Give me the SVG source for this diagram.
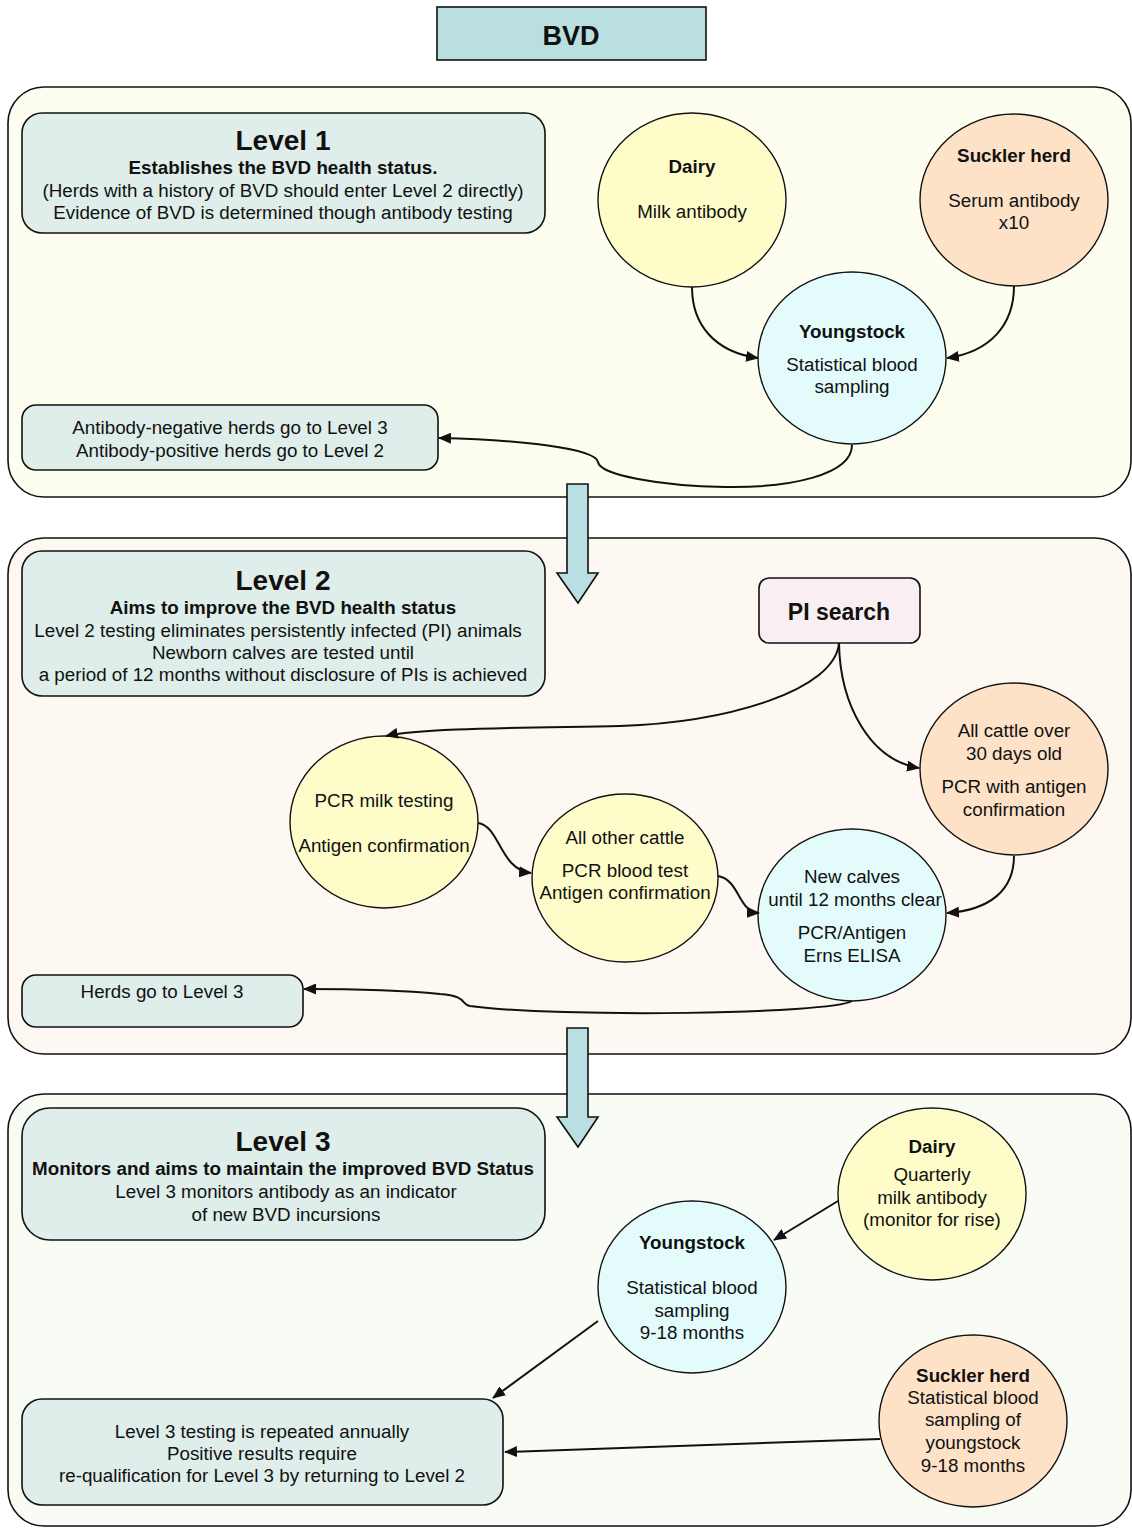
<svg xmlns="http://www.w3.org/2000/svg" width="1132" height="1528" viewBox="0 0 1132 1528">
<style>
text{font-family:"Liberation Sans",Arial,sans-serif;font-size:18.8px;fill:#111;text-anchor:middle}
.b{font-weight:bold}
.t{font-weight:bold;font-size:28px}
.cont{stroke:#111;stroke-width:1.6}
.box{fill:#dfeeea;stroke:#111;stroke-width:1.6}
.yel{fill:#fefdc9;stroke:#111;stroke-width:1.4}
.pch{fill:#fde2c7;stroke:#111;stroke-width:1.4}
.cyn{fill:#e3fcfb;stroke:#111;stroke-width:1.4}
.blk{fill:#b9dfe2;stroke:#111;stroke-width:1.6}
.c{fill:none;stroke:#111;stroke-width:2}
</style>
<defs>
<marker id="ah" markerWidth="13" markerHeight="11" refX="12" refY="5.5" orient="auto" markerUnits="userSpaceOnUse">
<path d="M0,0 L13,5.5 L0,11 z" fill="#111"/>
</marker>
</defs>
<rect width="1132" height="1528" fill="#fff"/>

<!-- containers -->
<g id="level1-container"><rect class="cont" x="8" y="87" width="1123" height="410" rx="36" fill="#fefef0"/></g>
<g id="level2-container"><rect class="cont" x="8" y="538" width="1123" height="516" rx="36" fill="#fdf8f2"/></g>
<g id="level3-container"><rect class="cont" x="8" y="1094" width="1123" height="432" rx="36" fill="#f8fcf5"/></g>

<!-- title -->
<g id="bvd"><rect x="437" y="7" width="269" height="53" fill="#b9dfe0" stroke="#111" stroke-width="1.6"/><text x="571" y="45" class="b" style="font-size:27px">BVD</text></g>

<!-- Level 1 -->
<g id="level1-box"><rect class="box" x="22" y="113" width="523" height="120" rx="20"/>
<text x="283" y="150" class="t">Level 1</text>
<text x="283" y="174" class="b">Establishes the BVD health status.</text>
<text x="283" y="197">(Herds with a history of BVD should enter Level 2 directly)</text>
<text x="283" y="219">Evidence of BVD is determined though antibody testing</text></g>

<g id="l1-dairy"><ellipse class="yel" cx="692" cy="200" rx="94" ry="87"/>
<text x="692" y="173" class="b">Dairy</text><text x="692" y="218">Milk antibody</text></g>
<g id="l1-suckler"><ellipse class="pch" cx="1014" cy="200" rx="94" ry="86"/>
<text x="1014" y="162" class="b">Suckler herd</text><text x="1014" y="207">Serum antibody</text><text x="1014" y="229">x10</text></g>
<g id="l1-youngstock"><ellipse class="cyn" cx="852" cy="358" rx="94" ry="86"/>
<text x="852" y="338" class="b">Youngstock</text><text x="852" y="371">Statistical blood</text><text x="852" y="393">sampling</text></g>
<g id="l1-result"><rect class="box" x="22" y="405" width="416" height="65" rx="14"/>
<text x="230" y="434">Antibody-negative herds go to Level 3</text><text x="230" y="457">Antibody-positive herds go to Level 2</text></g>

<!-- Level 2 -->
<g id="level2-box"><rect class="box" x="22" y="551" width="523" height="145" rx="20"/>
<text x="283" y="590" class="t">Level 2</text>
<text x="283" y="614" class="b">Aims to improve the BVD health status</text>
<text x="278" y="637">Level 2 testing eliminates persistently infected (PI) animals</text>
<text x="283" y="659">Newborn calves are tested until</text>
<text x="283" y="681">a period of 12 months without disclosure of PIs is achieved</text></g>

<g id="pi-search"><rect x="759" y="578" width="161" height="65" rx="10" fill="#f9eef2" stroke="#111" stroke-width="1.6"/>
<text x="839" y="620" class="b" style="font-size:23px">PI search</text></g>
<g id="l2-all-cattle"><ellipse class="pch" cx="1014" cy="769" rx="94" ry="86"/>
<text x="1014" y="737">All cattle over</text><text x="1014" y="760">30 days old</text><text x="1014" y="793">PCR with antigen</text><text x="1014" y="816">confirmation</text></g>
<g id="l2-pcr-milk"><ellipse class="yel" cx="384" cy="822" rx="94" ry="86"/>
<text x="384" y="807">PCR milk testing</text><text x="384" y="852">Antigen confirmation</text></g>
<g id="l2-other-cattle"><ellipse class="yel" cx="625" cy="878" rx="93" ry="84"/>
<text x="625" y="844">All other cattle</text><text x="625" y="877">PCR blood test</text><text x="625" y="899">Antigen confirmation</text></g>
<g id="l2-new-calves"><ellipse class="cyn" cx="852" cy="915" rx="94" ry="86"/>
<text x="852" y="883">New calves</text><text x="855" y="906">until 12 months clear</text><text x="852" y="939">PCR/Antigen</text><text x="852" y="962">Erns ELISA</text></g>
<g id="l2-result"><rect class="box" x="22" y="975" width="281" height="52" rx="14"/>
<text x="162" y="998">Herds go to Level 3</text></g>

<!-- Level 3 -->
<g id="level3-box"><rect class="box" x="22" y="1108" width="523" height="132" rx="28"/>
<text x="283" y="1151" class="t">Level 3</text>
<text x="283" y="1175" class="b">Monitors and aims to maintain the improved BVD Status</text>
<text x="286" y="1198">Level 3 monitors antibody as an indicator</text>
<text x="286" y="1221">of new BVD incursions</text></g>
<g id="l3-dairy"><ellipse class="yel" cx="932" cy="1194" rx="94" ry="86"/>
<text x="932" y="1153" class="b">Dairy</text><text x="932" y="1181">Quarterly</text><text x="932" y="1204">milk antibody</text><text x="932" y="1226">(monitor for rise)</text></g>
<g id="l3-youngstock"><ellipse class="cyn" cx="692" cy="1287" rx="94" ry="86"/>
<text x="692" y="1249" class="b">Youngstock</text><text x="692" y="1294">Statistical blood</text><text x="692" y="1317">sampling</text><text x="692" y="1339">9-18 months</text></g>
<g id="l3-suckler"><ellipse class="pch" cx="973" cy="1421" rx="94" ry="86"/>
<text x="973" y="1382" class="b">Suckler herd</text><text x="973" y="1404">Statistical blood</text><text x="973" y="1426">sampling of</text><text x="973" y="1449">youngstock</text><text x="973" y="1472">9-18 months</text></g>
<g id="l3-result"><rect class="box" x="22" y="1399" width="481" height="106" rx="20"/>
<text x="262" y="1438">Level 3 testing is repeated annually</text><text x="262" y="1460">Positive results require</text><text x="262" y="1482">re-qualification for Level 3 by returning to Level 2</text></g>

<!-- block arrows -->
<g id="block-arrows">
<path class="blk" d="M567,484 H588 V573 H598 L578,603 L557,573 H567 Z"/>
<path class="blk" d="M567,1028 H588 V1117 H598 L578,1147 L557,1117 H567 Z"/>
</g>

<!-- connectors -->
<g id="connectors">
<path class="c" marker-end="url(#ah)" d="M692,287 C692,325 715,352 758,358"/>
<path class="c" marker-end="url(#ah)" d="M1014,286 C1014,325 990,352 947,358"/>
<path class="c" marker-end="url(#ah)" d="M852,445 C852,475 790,488 725,487 C660,486 600,475 598,462 C595,448 520,440 439,438"/>
<path class="c" marker-end="url(#ah)" d="M839,643 C835,690 730,722 620,726 C520,728 420,728 386,736"/>
<path class="c" marker-end="url(#ah)" d="M839,643 C840,705 870,760 919,768"/>
<path class="c" marker-end="url(#ah)" d="M478,823 C500,826 500,870 531,873"/>
<path class="c" marker-end="url(#ah)" d="M718,876 C740,880 738,912 759,913"/>
<path class="c" marker-end="url(#ah)" d="M1014,856 C1014,890 990,910 947,913"/>
<path class="c" marker-end="url(#ah)" d="M852,1001 C830,1014 560,1018 470,1006 C460,1004 468,996 440,994 C400,990 350,989 304,989"/>
<path class="c" marker-end="url(#ah)" d="M838,1201 L774,1240"/>
<path class="c" marker-end="url(#ah)" d="M598,1321 L493,1398"/>
<path class="c" marker-end="url(#ah)" d="M880,1439 L505,1452"/>
</g>
</svg>
